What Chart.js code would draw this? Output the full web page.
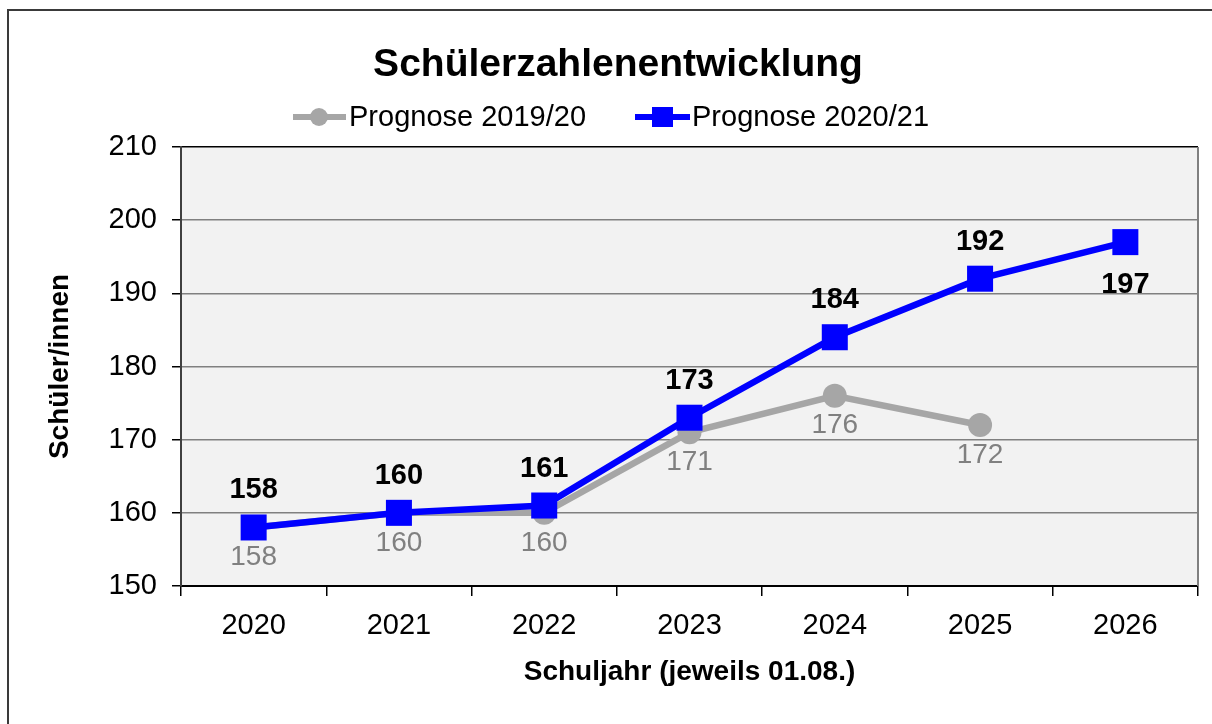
<!DOCTYPE html>
<html>
<head>
<meta charset="utf-8">
<script src="https://cdn.jsdelivr.net/npm/chart.js@4"></script>
<style>
  html, body { margin: 0; padding: 0; background: #ffffff; }
  canvas { display: block; }
</style>
</head>
<body>
<canvas id="c" width="1212" height="724"></canvas>
<script>
const categories = ['2020', '2021', '2022', '2023', '2024', '2025', '2026'];
const prognose2019 = [158, 160, 160, 171, 176, 172, null];
const prognose2020 = [158, 160, 161, 173, 184, 192, 197];
const seriesNames = ['Prognose 2019/20', 'Prognose 2020/21'];
const titleText = 'Schülerzahlenentwicklung';
const xTitle = 'Schuljahr (jeweils 01.08.)';
const yTitle = 'Schüler/innen';
const yMin = 150, yMax = 210, yStep = 10;

const FONT = '"Liberation Sans", Arial, sans-serif';
const GRAY = '#A6A6A6';
const BLUE = '#0000FF';

const decor = {
  id: 'decor',
  beforeDraw(chart) {
    const {ctx, chartArea: a} = chart;
    ctx.save();
    ctx.fillStyle = '#F2F2F2';
    ctx.fillRect(a.left, a.top, a.right - a.left, a.bottom - a.top);
    ctx.restore();
  },
  afterDraw(chart) {
    const {ctx, chartArea: a} = chart;
    ctx.save();
    // outer frame (left & top edges)
    ctx.strokeStyle = '#3a3a3a';
    ctx.lineWidth = 2;
    ctx.beginPath();
    ctx.moveTo(8, 724);
    ctx.lineTo(8, 10);
    ctx.lineTo(1212, 10);
    ctx.stroke();
    // right border of plot
    ctx.strokeStyle = '#808080';
    ctx.lineWidth = 2;
    ctx.beginPath();
    ctx.moveTo(a.right, a.top);
    ctx.lineTo(a.right, a.bottom);
    ctx.stroke();
    // title
    ctx.fillStyle = '#000';
    ctx.font = 'bold 39px ' + FONT;
    ctx.textAlign = 'center';
    ctx.textBaseline = 'middle';
    ctx.fillText(titleText, 618, 65);
    // legend
    ctx.font = '29px ' + FONT;
    ctx.textAlign = 'left';
    const ly = 117;
    // gray entry
    ctx.strokeStyle = GRAY; ctx.lineWidth = 6;
    ctx.beginPath(); ctx.moveTo(293, ly); ctx.lineTo(346, ly); ctx.stroke();
    ctx.fillStyle = GRAY;
    ctx.beginPath(); ctx.arc(319, ly, 9, 0, Math.PI * 2); ctx.fill();
    ctx.fillStyle = '#000';
    ctx.fillText(seriesNames[0], 349, ly + 1);
    // blue entry
    ctx.strokeStyle = BLUE; ctx.lineWidth = 6;
    ctx.beginPath(); ctx.moveTo(635, ly); ctx.lineTo(690, ly); ctx.stroke();
    ctx.fillStyle = BLUE;
    ctx.fillRect(652, ly - 10, 21, 20);
    ctx.fillStyle = '#000';
    ctx.fillText(seriesNames[1], 692, ly + 1);
    ctx.restore();
  },
  afterDatasetsDraw(chart) {
    const {ctx} = chart;
    ctx.save();
    ctx.textAlign = 'center';
    ctx.textBaseline = 'middle';
    chart.data.datasets.forEach((ds, i) => {
      const meta = chart.getDatasetMeta(i);
      meta.data.forEach((pt, j) => {
        const v = ds.data[j];
        if (v === null || v === undefined) return;
        if (ds.labelStyle === 'above') {
          ctx.font = 'bold 29px ' + FONT;
          ctx.fillStyle = '#000';
          const last = j === ds.data.length - 1;
          ctx.fillText(String(v), pt.x, last ? pt.y + 43 : pt.y - 37);
        } else {
          ctx.font = '28px ' + FONT;
          ctx.fillStyle = '#808080';
          ctx.fillText(String(v), pt.x, pt.y + 30);
        }
      });
    });
    ctx.restore();
  }
};

new Chart(document.getElementById('c'), {
  type: 'line',
  data: {
    labels: categories,
    datasets: [
      {
        label: seriesNames[1],
        data: prognose2020,
        borderColor: BLUE,
        backgroundColor: BLUE,
        borderWidth: 6.5,
        pointStyle: 'rect',
        pointRadius: 18.4,
        pointBorderWidth: 0,
        tension: 0,
        order: 0,
        clip: false,
        labelStyle: 'above'
      },
      {
        label: seriesNames[0],
        data: prognose2019,
        borderColor: GRAY,
        backgroundColor: GRAY,
        borderWidth: 6.5,
        pointStyle: 'circle',
        pointRadius: 12,
        pointBorderWidth: 0,
        tension: 0,
        order: 1,
        clip: false,
        labelStyle: 'below'
      }
    ]
  },
  options: {
    responsive: false,
    animation: false,
    devicePixelRatio: 1,
    layout: { autoPadding: false, padding: { top: 147, right: 14, left: 0, bottom: 0 } },
    plugins: {
      legend: { display: false },
      title: { display: false },
      tooltip: { enabled: false }
    },
    scales: {
      x: {
        offset: true,
        afterFit(scale) { scale.height = 138; scale.paddingLeft = 0; scale.paddingRight = 0; },
        grid: { drawOnChartArea: false, drawTicks: true, tickLength: 10, color: '#000', lineWidth: 1.5, offset: true },
        border: { color: '#000', width: 2 },
        ticks: { color: '#000', font: { family: FONT, size: 29 }, padding: 13, maxRotation: 0 },
        title: { display: true, text: xTitle, color: '#000', font: { family: FONT, size: 28, weight: 'bold' }, padding: { top: 0, bottom: 35 } }
      },
      y: {
        min: yMin,
        max: yMax,
        afterFit(scale) { scale.width = 181; scale.paddingTop = 0; scale.paddingBottom = 0; },
        grid: { color: (c) => (c.tick && c.tick.value === yMax ? '#000' : '#808080'), lineWidth: 1.5, tickLength: 9, tickColor: '#000' },
        border: { color: '#404040', width: 2 },
        ticks: { stepSize: yStep, color: '#000', font: { family: FONT, size: 29 }, padding: 15 },
        title: { display: true, text: yTitle, color: '#000', font: { family: FONT, size: 28, weight: 'bold' }, padding: { top: 43, bottom: 0 } }
      }
    }
  },
  plugins: [decor]
});
</script>
</body>
</html>
